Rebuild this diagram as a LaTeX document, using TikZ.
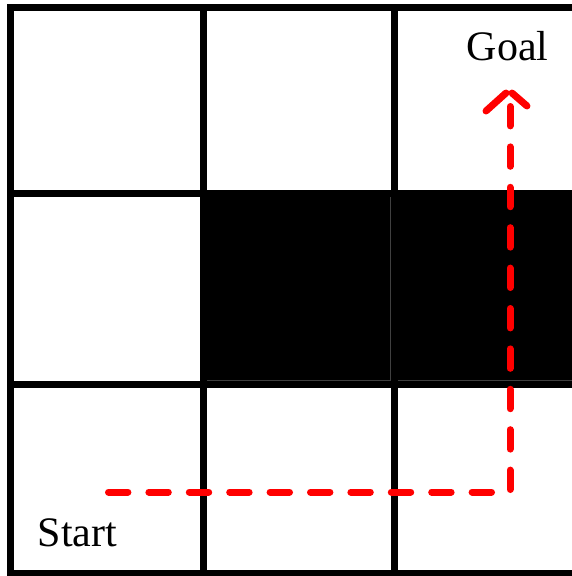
\documentclass[tikz,border=0pt]{standalone}
\usepackage{fontspec}
\setmainfont{Liberation Serif}
\begin{document}
\begin{tikzpicture}[x=1pt,y=-1pt,
  gridline/.style={line width=7pt,black},
  wall/.style={fill=black,draw=black!75,line width=1pt},
  lbl/.style={font=\fontsize{42}{42}\selectfont,anchor=base,inner sep=0pt},
  route/.style={red,line width=7pt,line cap=round,line join=round,dash pattern=on 19.4pt off 21pt},
  tip/.style={red,line width=7pt,line cap=round}]
\useasboundingbox (0,0) rectangle (572,576);
% blocked cells
\draw[wall] (206.5,196.5) rectangle (390.5,380.5);
\draw[wall] (397.5,196.5) rectangle (580,380.5);
% grid
\foreach \x in {10.5,203.5,394} \draw[gridline] (\x,4) -- (\x,580);
\foreach \y in {7.5,193,384,573.5} \draw[gridline] (7,\y) -- (580,\y);
% labels
\node[lbl] (goal) at (507.5,60) {Goal};
\node[lbl] (start) at (77.5,546) {Start};
% route
\coordinate (s) at (108.5,492);
\coordinate (c) at (510,492);
\coordinate (e) at (510,96);
\draw[route] (s) -- (c) -- (e);
\coordinate (tipl) at (486,111);
\coordinate (tiptl) at (506,93);
\coordinate (tiptr) at (512,93);
\coordinate (tipr) at (527,106);
\draw[tip] (tipl) -- (tiptl);
\draw[tip] (tiptr) -- (tipr);
\end{tikzpicture}
\end{document}
